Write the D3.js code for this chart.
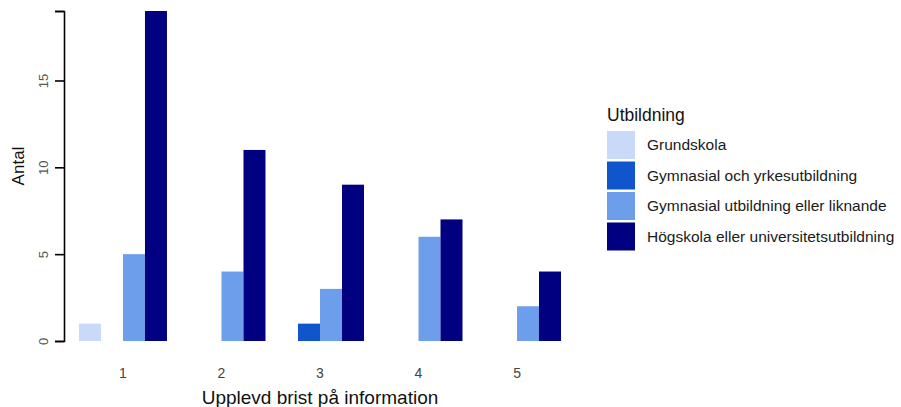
<!DOCTYPE html>
<html>
<head>
<meta charset="utf-8">
<script src="https://cdn.jsdelivr.net/npm/d3@7"></script>
<style>
  body { margin: 0; background: #fff; }
  svg { display: block; font-family: "Liberation Sans", Arial, sans-serif; }
</style>
</head>
<body>
<div id="chart"></div>
<script>
// data
var categories = ["1", "2", "3", "4", "5"];
var series = ["Grundskola", "Gymnasial och yrkesutbildning", "Gymnasial utbildning eller liknande", "Högskola eller universitetsutbildning"];
var grundskola = [1, 0, 0, 0, 0];
var gymYrkes = [0, 0, 1, 0, 0];
var gymLiknande = [5, 4, 3, 6, 2];
var hogskola = [19, 11, 9, 7, 4];
var yTicks = [0, 5, 10, 15];
var colors = ["#c9daf8", "#1155cc", "#6d9eeb", "#000080"];

var values = [grundskola, gymYrkes, gymLiknande, hogskola];

var width = 901, height = 407;

var svg = d3.select("#chart").append("svg")
    .attr("width", width)
    .attr("height", height);

var x = d3.scaleBand()
    .domain(categories)
    .range([79, 561])
    .paddingInner(0.107)
    .paddingOuter(0);

var xs = d3.scaleBand()
    .domain(series)
    .range([0, x.bandwidth()]);

var y = d3.scaleLinear()
    .domain([0, 19])
    .range([341, 11]);

var color = d3.scaleOrdinal().domain(series).range(colors);

// bars
var rows = [];
categories.forEach(function(c, i) {
  series.forEach(function(s, j) {
    rows.push({ cat: c, ser: s, val: values[j][i] });
  });
});

svg.append("g").selectAll("rect")
    .data(rows.filter(function(d) { return d.val > 0; }))
  .enter().append("rect")
    .attr("x", function(d) { return x(d.cat) + xs(d.ser); })
    .attr("y", function(d) { return y(d.val); })
    .attr("width", xs.bandwidth())
    .attr("height", function(d) { return y(0) - y(d.val); })
    .attr("fill", function(d) { return color(d.ser); });

// y axis
var yAxis = svg.append("g")
    .attr("transform", "translate(64,0)")
    .call(d3.axisLeft(y).tickValues(yTicks.concat([19])).tickSize(9).tickPadding(5)
      .tickFormat(function(d) { return yTicks.indexOf(d) >= 0 ? d : ""; }));
yAxis.select(".domain").attr("stroke", "#000").attr("stroke-width", 1.6);
yAxis.selectAll(".tick line").attr("stroke", "#000").attr("stroke-width", 1.6);
yAxis.selectAll(".tick text")
    .attr("fill", "#555")
    .attr("font-size", 13)
    .attr("text-anchor", "middle")
    .attr("x", 0)
    .attr("dy", 0)
    .attr("transform", "translate(-19,0) rotate(-90)")
    .attr("dominant-baseline", "middle");

// x axis (labels only)
var xAxis = svg.append("g")
    .attr("transform", "translate(0,341)")
    .call(d3.axisBottom(x).tickSize(0).tickPadding(27));
xAxis.select(".domain").remove();
xAxis.selectAll(".tick text")
    .attr("fill", "#444")
    .attr("font-size", 14);

// axis titles
svg.append("text")
    .attr("x", 320)
    .attr("y", 404)
    .attr("text-anchor", "middle")
    .attr("font-size", 19)
    .attr("fill", "#111")
    .text("Upplevd brist på information");

svg.append("text")
    .attr("transform", "translate(24,166) rotate(-90)")
    .attr("text-anchor", "middle")
    .attr("font-size", 17)
    .attr("fill", "#111")
    .text("Antal");

// legend
var legend = svg.append("g").attr("transform", "translate(607,0)");

legend.append("text")
    .attr("x", 0)
    .attr("y", 121)
    .attr("font-size", 17.5)
    .attr("fill", "#111")
    .text("Utbildning");

var item = legend.selectAll(".item")
    .data(series)
  .enter().append("g")
    .attr("class", "item")
    .attr("transform", function(d, i) { return "translate(0," + (131 + i * 30.5) + ")"; });

item.append("rect")
    .attr("width", 28)
    .attr("height", 28)
    .attr("fill", function(d) { return color(d); });

item.append("text")
    .attr("x", 40)
    .attr("y", 14)
    .attr("dy", "0.35em")
    .attr("font-size", 15.5)
    .attr("fill", "#1a1a1a")
    .text(function(d) { return d; });
</script>
</body>
</html>
